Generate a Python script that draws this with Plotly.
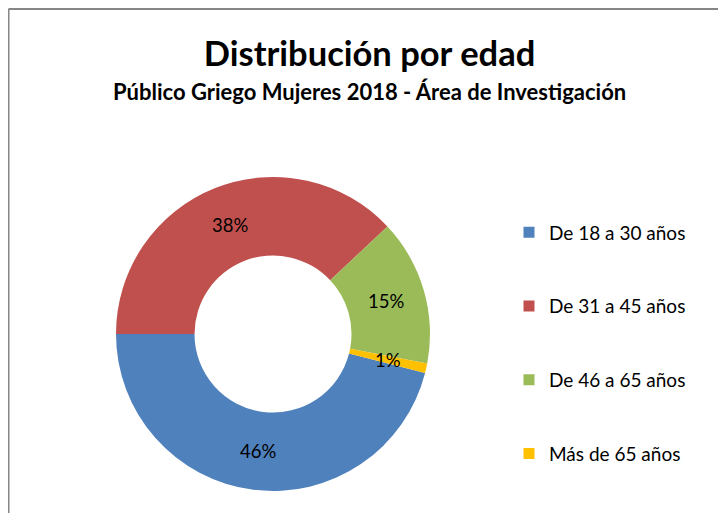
import math
import plotly.graph_objects as go

categories = ["De 18 a 30 años", "De 31 a 45 años", "De 46 a 65 años", "Más de 65 años"]
values = [46, 38, 15, 1]
colors = ["#4F81BD", "#C0504D", "#9BBB59", "#FFC000"]

title_text = "Distribución por edad"
subtitle_text = "Público Griego Mujeres 2018 - Área de Investigación"

W, H = 726, 513
FONT = "Lato"

# pie geometry in figure pixels
cx, cy, R = 265, 326, 157
HOLE = 0.5
ROTATION = 104.4

fig = go.Figure()
fig.add_trace(go.Pie(
    labels=categories, values=values, sort=False,
    direction="clockwise", rotation=ROTATION, hole=HOLE,
    marker=dict(colors=colors, line=dict(width=0)),
    textinfo="none",
    domain=dict(x=[(cx - R) / W, (cx + R) / W], y=[(H - cy - R) / H, (H - cy + R) / H]),
    showlegend=False,
))

# percentage labels placed at the middle of each ring segment
total = sum(values)
rmid = R * (1 + HOLE) / 2
annotations = []
cum = 0
for v in values:
    a = math.radians(ROTATION + (cum + v / 2) / total * 360)
    px = cx + rmid * math.sin(a)
    py = cy - rmid * math.cos(a)
    annotations.append(dict(text=f"{round(100 * v / total)}%", x=px / W, y=1 - py / H,
                            xref="paper", yref="paper", xanchor="center", yanchor="middle",
                            showarrow=False, font=dict(family=FONT, size=18.5, color="#000000")))
    cum += v

# legend entries (one per category, same colours as slices)
for i, (name, col) in enumerate(zip(categories, colors)):
    fig.add_trace(go.Scatter(
        x=[None], y=[None], mode="markers", name=name,
        marker=dict(symbol="square", size=11, color=col),
        legendgroup=f"g{i}", showlegend=True,
    ))

annotations.append(dict(text="<b>" + subtitle_text + "</b>", x=361.5 / W, y=1 - 83.5 / H,
                        xref="paper", yref="paper", xanchor="center", yanchor="middle",
                        showarrow=False, font=dict(family=FONT, size=22, color="#000000")))

fig.update_layout(
    width=W, height=H,
    margin=dict(l=0, r=0, t=0, b=0),
    paper_bgcolor="white", plot_bgcolor="white",
    xaxis=dict(visible=False), yaxis=dict(visible=False),
    font=dict(family=FONT, color="#000000"),
    title=dict(text="<b>" + title_text + "</b>", x=361.5 / W, xanchor="center",
               y=1 - 45.5 / H, yanchor="middle", font=dict(family=FONT, size=34.5, color="#000000")),
    legend=dict(x=501 / W, y=1 - 205.5 / H, xanchor="left", yanchor="top",
                font=dict(family=FONT, size=19, color="#000000"),
                tracegroupgap=46, bgcolor="rgba(0,0,0,0)"),
    annotations=annotations,
    shapes=[
        dict(type="line", xref="paper", yref="paper", x0=0.5 / W, x1=0.5 / W, y0=-0.1, y1=1 - 1 / H,
             line=dict(color="#868686", width=2)),
        dict(type="line", xref="paper", yref="paper", x0=0.5 / W, x1=1.1, y0=1 - 1 / H, y1=1 - 1 / H,
             line=dict(color="#868686", width=2)),
    ],
)

fig.write_html("out.html")
